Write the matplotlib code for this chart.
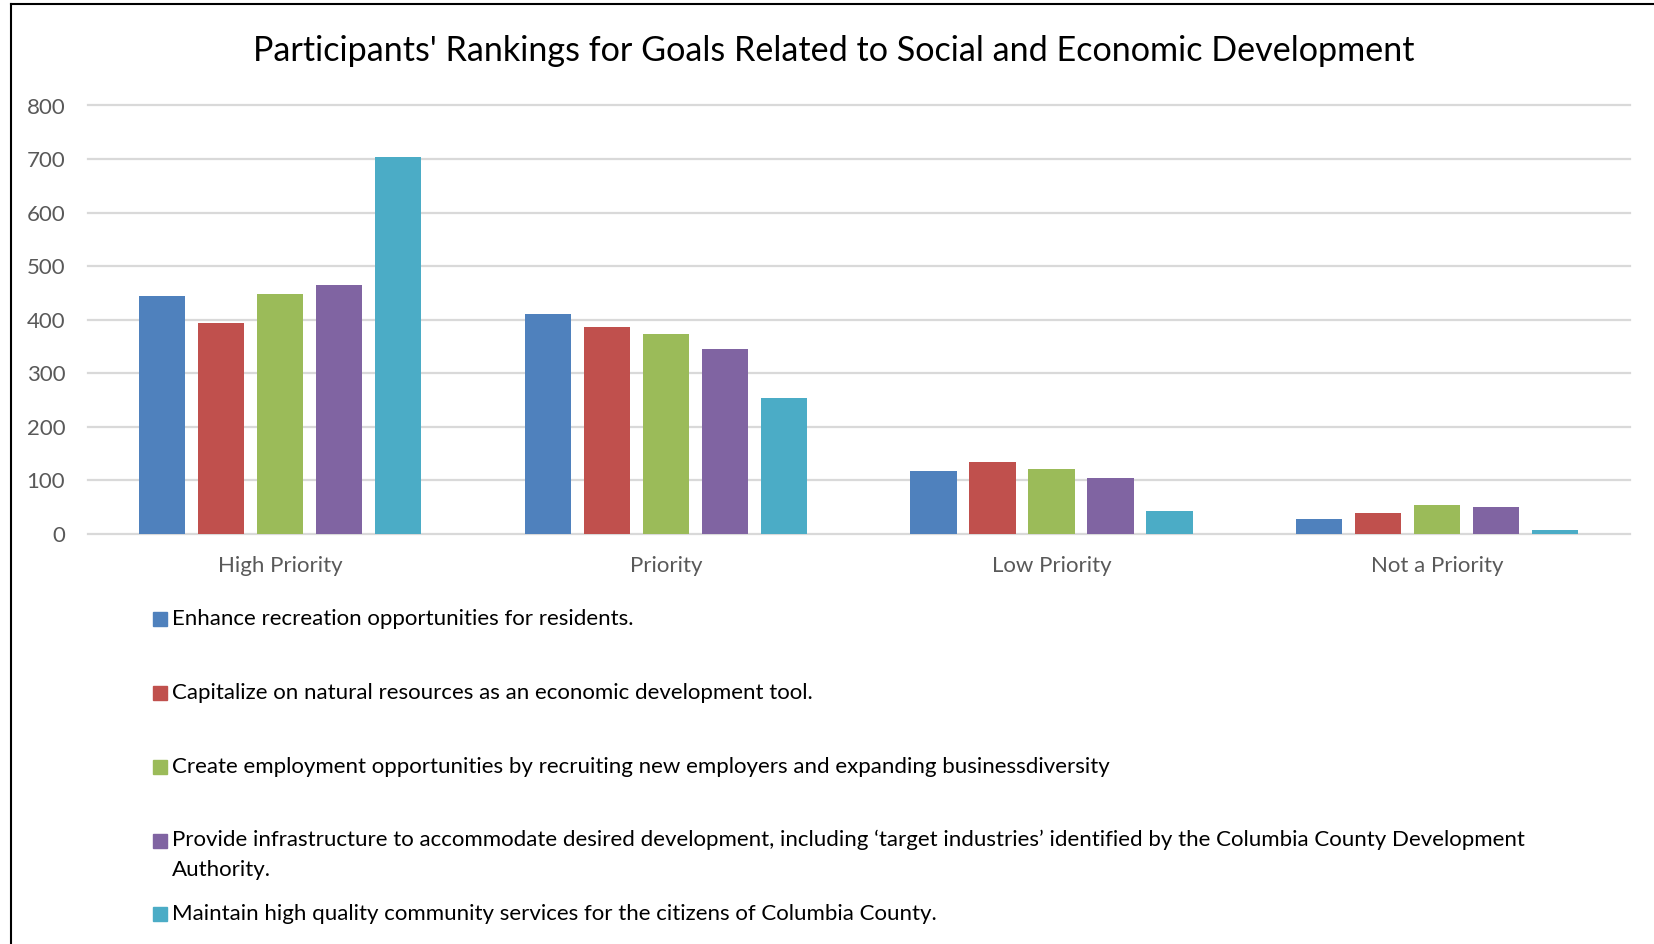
import numpy as np
import matplotlib
matplotlib.use('Agg')
import matplotlib.pyplot as plt
from matplotlib.lines import Line2D
from matplotlib.patches import Rectangle

# 数据
categories = ['High Priority', 'Priority', 'Low Priority', 'Not a Priority']
series_names = [
    'Enhance recreation opportunities for residents.',
    'Capitalize on natural resources as an economic development tool.',
    'Create employment opportunities by recruiting new employers and expanding businessdiversity',
    'Provide infrastructure to accommodate desired development, including \u2018target industries\u2019 identified by the Columbia County Development\nAuthority.',
    'Maintain high quality community services for the citizens of Columbia County.',
]
recreation = [445, 410, 118, 28]
natural_resources = [393, 387, 134, 38]
employment = [447, 373, 120, 53]
infrastructure = [465, 346, 104, 49]
services = [704, 254, 42, 7]
series_values = [recreation, natural_resources, employment, infrastructure, services]
colors = ['#4F81BD', '#C0504D', '#9BBB59', '#8064A2', '#4BACC6']
yticks = [0, 100, 200, 300, 400, 500, 600, 700, 800]

plt.rcParams['font.family'] = ['Lato', 'DejaVu Sans']

W, H = 1654, 944
fig = plt.figure(figsize=(W / 100, H / 100), dpi=100)

# 绘图区域 (像素换算为比例)
left, right = 87.5, 1630
top, bottom = 105.5, 533.7
ax = fig.add_axes([left / W, 1 - bottom / H, (right - left) / W, (bottom - top) / H])

x = np.arange(len(categories))
bar_w = 0.12
pitch = 0.153
for i, vals in enumerate(series_values):
    ax.bar(x + (i - 2) * pitch, vals, width=bar_w, color=colors[i], zorder=3)

ax.set_xlim(-0.5, 3.5)
ax.set_ylim(0, 800)
ax.set_yticks(yticks)
ax.set_xticks(x)
ax.set_xticklabels(categories)
ax.grid(axis='y', color='#D9D9D9', linewidth=1.6, zorder=0)
for l in ax.get_ygridlines():
    l.set_clip_on(False)
for s in ax.spines.values():
    s.set_visible(False)
ax.tick_params(axis='both', length=0, labelsize=16, labelcolor='#595959')
ax.tick_params(axis='y', pad=16)
ax.tick_params(axis='x', pad=16)

# 标题
fig.text(834 / W, 1 - 51 / H, "Participants' Rankings for Goals Related to Social and Economic Development",
         ha='center', va='center', fontsize=24.6, color='black')

# 图例 (手动放置)
legend_y = [619, 693, 767, 841, 914]
for i, name in enumerate(series_names):
    y = legend_y[i]
    fig.patches.append(Rectangle((153 / W, 1 - (y + 7) / H), 14 / W, 14 / H,
                                 transform=fig.transFigure, color=colors[i]))
    if '\n' in name:
        fig.text(172 / W, 1 - (y - 11) / H, name, ha='left', va='top',
                 fontsize=16, color='black', linespacing=1.6)
    else:
        fig.text(172 / W, 1 - y / H, name, ha='left', va='center',
                 fontsize=16, color='black')

# 外框
fig.add_artist(Line2D([11 / W, 11 / W], [0, 1 - 4 / H], color='black', linewidth=1.5))
fig.add_artist(Line2D([11 / W, 1], [1 - 4 / H, 1 - 4 / H], color='black', linewidth=1.5))

fig.savefig('out.png', dpi=100)
